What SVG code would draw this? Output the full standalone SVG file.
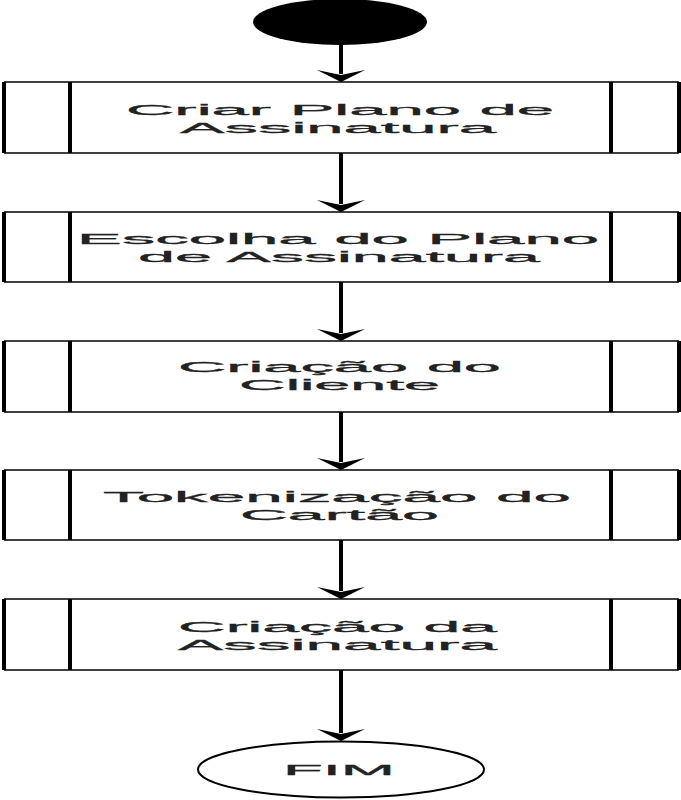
<svg xmlns="http://www.w3.org/2000/svg" width="681" height="800" viewBox="0 0 681 800">
<style>
.h{stroke:#000;stroke-width:1.6;fill:none}
.v{stroke:#000;stroke-width:4;fill:none}
.t{font-family:"Liberation Sans",Arial,sans-serif;font-size:15.5px;fill:#222;stroke:#222;stroke-width:0.3;text-anchor:start}
.c{stroke:#000;stroke-width:4;fill:none}
.ah{fill:#000}
</style>
<rect width="681" height="800" fill="#fff"/>
<g id="start"><ellipse cx="340" cy="22" rx="87" ry="23" fill="#000"/></g>
<g id="connectors">
<line class="c" x1="341" y1="45" x2="341" y2="74"/>
<polygon class="ah" points="317,70 341,82 365,70 341,75"/>
<line class="c" x1="341" y1="153" x2="341" y2="204"/>
<polygon class="ah" points="317,200 341,212 365,200 341,205"/>
<line class="c" x1="341" y1="282" x2="341" y2="333"/>
<polygon class="ah" points="317,329 341,341 365,329 341,334"/>
<line class="c" x1="341" y1="412" x2="341" y2="462"/>
<polygon class="ah" points="317,458 341,470 365,458 341,463"/>
<line class="c" x1="341" y1="540" x2="341" y2="591"/>
<polygon class="ah" points="317,587 341,599 365,587 341,592"/>
<line class="c" x1="341" y1="670" x2="341" y2="733"/>
<polygon class="ah" points="317,729 341,741 365,729 341,734"/>
</g>
<g id="n1">
<line class="h" x1="4" y1="82" x2="679" y2="82"/><line class="h" x1="4" y1="153" x2="679" y2="153"/>
<line class="v" x1="4" y1="82" x2="4" y2="153"/><line class="v" x1="70" y1="82" x2="70" y2="153"/>
<line class="v" x1="611" y1="82" x2="611" y2="153"/><line class="v" x1="679" y1="82" x2="679" y2="153"/>
<text class="t" x="126" y="115" textLength="428" lengthAdjust="spacingAndGlyphs">Criar Plano de</text>
<text class="t" x="180" y="133" textLength="316" lengthAdjust="spacingAndGlyphs">Assinatura</text>
</g>
<g id="n2">
<line class="h" x1="4" y1="212" x2="679" y2="212"/><line class="h" x1="4" y1="282" x2="679" y2="282"/>
<line class="v" x1="4" y1="212" x2="4" y2="282"/><line class="v" x1="70" y1="212" x2="70" y2="282"/>
<line class="v" x1="611" y1="212" x2="611" y2="282"/><line class="v" x1="679" y1="212" x2="679" y2="282"/>
<text class="t" x="77" y="244" textLength="522" lengthAdjust="spacingAndGlyphs">Escolha do Plano</text>
<text class="t" x="138" y="262" textLength="402" lengthAdjust="spacingAndGlyphs">de Assinatura</text>
</g>
<g id="n3">
<line class="h" x1="4" y1="341" x2="679" y2="341"/><line class="h" x1="4" y1="412" x2="679" y2="412"/>
<line class="v" x1="4" y1="341" x2="4" y2="412"/><line class="v" x1="70" y1="341" x2="70" y2="412"/>
<line class="v" x1="611" y1="341" x2="611" y2="412"/><line class="v" x1="679" y1="341" x2="679" y2="412"/>
<text class="t" x="178" y="372" textLength="323" lengthAdjust="spacingAndGlyphs">Criação do</text>
<text class="t" x="239" y="390" textLength="201" lengthAdjust="spacingAndGlyphs">Cliente</text>
</g>
<g id="n4">
<line class="h" x1="4" y1="470" x2="679" y2="470"/><line class="h" x1="4" y1="540" x2="679" y2="540"/>
<line class="v" x1="4" y1="470" x2="4" y2="540"/><line class="v" x1="70" y1="470" x2="70" y2="540"/>
<line class="v" x1="611" y1="470" x2="611" y2="540"/><line class="v" x1="679" y1="470" x2="679" y2="540"/>
<text class="t" x="103" y="502" textLength="468" lengthAdjust="spacingAndGlyphs">Tokenização do</text>
<text class="t" x="240" y="520" textLength="199" lengthAdjust="spacingAndGlyphs">Cartão</text>
</g>
<g id="n5">
<line class="h" x1="4" y1="599" x2="679" y2="599"/><line class="h" x1="4" y1="670" x2="679" y2="670"/>
<line class="v" x1="4" y1="599" x2="4" y2="670"/><line class="v" x1="70" y1="599" x2="70" y2="670"/>
<line class="v" x1="611" y1="599" x2="611" y2="670"/><line class="v" x1="679" y1="599" x2="679" y2="670"/>
<text class="t" x="178" y="632" textLength="319" lengthAdjust="spacingAndGlyphs">Criação da</text>
<text class="t" x="178" y="650" textLength="319" lengthAdjust="spacingAndGlyphs">Assinatura</text>
</g>
<g id="end">
<ellipse cx="341" cy="769.5" rx="143" ry="28" fill="#fff" stroke="#000" stroke-width="2"/>
<text class="t" x="283" y="775" textLength="112" lengthAdjust="spacingAndGlyphs">FIM</text>
</g>
</svg>
